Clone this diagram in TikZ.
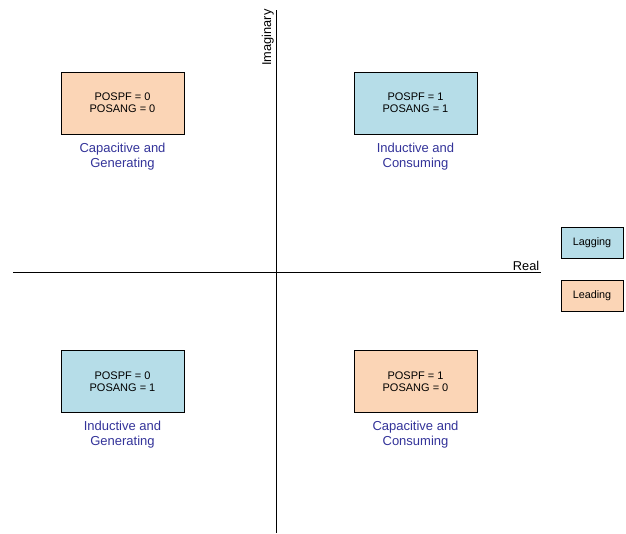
\documentclass[tikz,border=0pt]{standalone}
\usepackage{fontspec}
\setmainfont{Liberation Sans}
\usetikzlibrary{positioning}
\definecolor{leadfill}{HTML}{FBD5B6}
\definecolor{lagfill}{HTML}{B6DDE8}
\definecolor{captext}{HTML}{333399}
\begin{document}
\begin{tikzpicture}[x=1pt, y=-1pt]
      \tikzset{
	  quadbox/.style={rectangle,draw=black, thin, minimum width=123pt, minimum height=62pt, align=center, font=\fontsize{11}{12}\selectfont},
	  legbox/.style={rectangle,draw=black, thin, minimum width=62pt, minimum height=31pt, font=\fontsize{10.8}{12}\selectfont},
	  caption/.style={align=center, text=captext, font=\fontsize{13}{15}\selectfont}
      }
      \useasboundingbox (0,0) rectangle (626,533);

      % axes
      \coordinate (ytop) at (276,10);
      \coordinate (ybot) at (276,533);
      \coordinate (xleft) at (13,272);
      \coordinate (xright) at (541,272);
      \draw[thick] (ytop) -- (ybot);
      \draw[thick] (xleft) -- (xright);
      \node[rotate=90, anchor=south, inner sep=2pt, font=\fontsize{12.8}{14}\selectfont] (imlab) at (276,37.5) {Imaginary};
      \node[anchor=south east, inner sep=1.5pt, font=\fontsize{12.8}{14}\selectfont] (relab) at (xright) {Real};

      % quadrants
      \node at (122.5,103) [quadbox, fill=leadfill] (q2) {POSPF = 0\\POSANG = 0};
      \node at (415.5,103) [quadbox, fill=lagfill] (q1) {POSPF = 1\\POSANG = 1};
      \node at (122.5,381.5) [quadbox, fill=lagfill] (q3) {POSPF = 0\\POSANG = 1};
      \node at (415.5,381.5) [quadbox, fill=leadfill] (q4) {POSPF = 1\\POSANG = 0};

      \node[caption, below=5pt of q2] (c2) {Capacitive and\\Generating};
      \node[caption, below=5pt of q1] (c1) {Inductive and\\Consuming};
      \node[caption, below=5pt of q3] (c3) {Inductive and\\Generating};
      \node[caption, below=5pt of q4] (c4) {Capacitive and\\Consuming};

      % legend
      \node at (592,242.5) [legbox, fill=lagfill] (lag) {Lagging};
      \node at (592,296) [legbox, fill=leadfill] (lead) {Leading};
    \end{tikzpicture}
\end{document}
